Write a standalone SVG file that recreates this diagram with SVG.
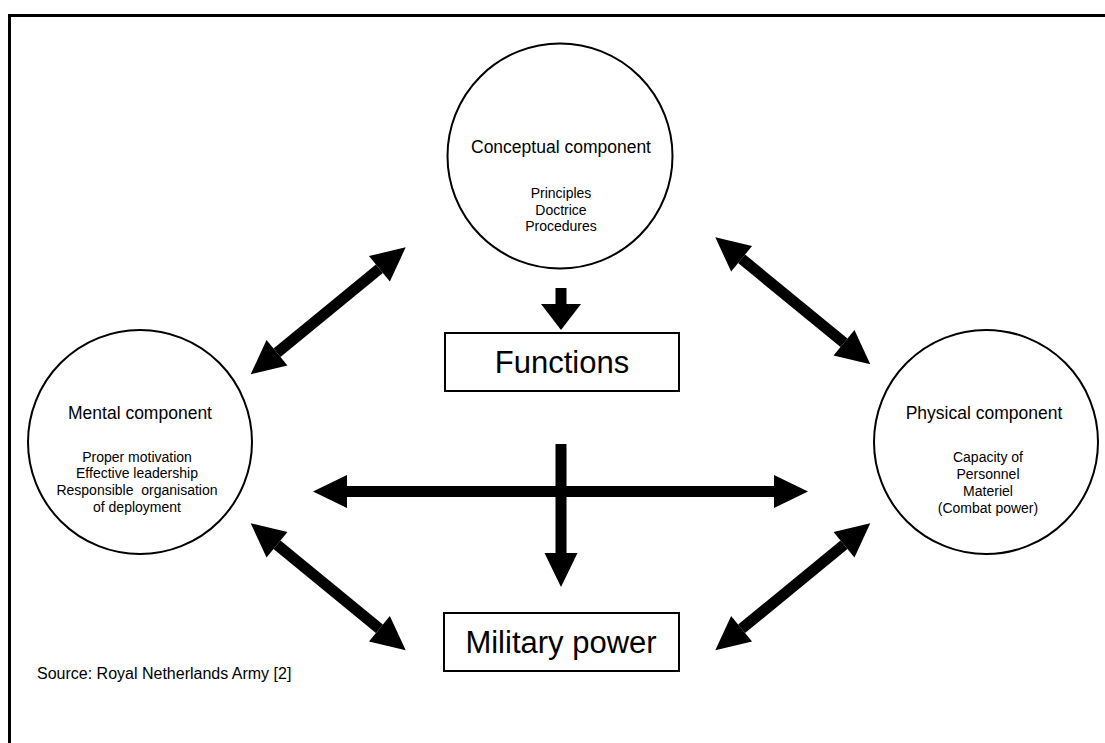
<svg xmlns="http://www.w3.org/2000/svg" width="1105" height="743" viewBox="0 0 1105 743">
<style>
.node{fill:#fff;stroke:#000;stroke-width:2}
.t{font-family:"Liberation Sans",Arial,sans-serif;fill:#000;text-anchor:middle}
.title{font-size:17.5px}
.sub{font-size:14px;white-space:pre}
.big{font-size:31px}
.conn{stroke:#000;stroke-width:11;fill:none}
.dbl{marker-start:url(#ah);marker-end:url(#ah)}
.one{marker-end:url(#ah)}
</style>
<defs>
<marker id="ah" markerUnits="userSpaceOnUse" markerWidth="34" markerHeight="34" refX="0" refY="16.5" orient="auto-start-reverse" overflow="visible">
<path d="M0,0 L34,16.5 L0,33 Z" fill="#000"/>
</marker>
<marker id="ahs" markerUnits="userSpaceOnUse" markerWidth="26" markerHeight="40" refX="0" refY="20" orient="auto" overflow="visible">
<path d="M0,0 L26,20 L0,40 Z" fill="#000"/>
</marker>
</defs>
<rect x="0" y="0" width="1105" height="743" fill="#fff"/>
<path d="M9.5,743 V15.5 H1105" fill="none" stroke="#000" stroke-width="3"/>
<g id="connectors">
<line class="conn" x1="561" y1="288" x2="561" y2="304" marker-end="url(#ahs)"/>
<line class="conn one" x1="561" y1="444" x2="561" y2="553"/>
<line class="conn dbl" x1="347" y1="491.5" x2="774" y2="491.5"/>
<line class="conn dbl" x1="277" y1="352.75" x2="379.4" y2="268.85"/>
<line class="conn dbl" x1="741.6" y1="258.85" x2="844" y2="342.75"/>
<line class="conn dbl" x1="277" y1="544.85" x2="379.4" y2="628.75"/>
<line class="conn dbl" x1="844" y1="544.85" x2="741.6" y2="628.75"/>
</g>
<g id="conceptual">
<circle class="node" cx="560" cy="156" r="112.5"/>
<text class="t title" x="561" y="153">Conceptual component</text>
<text class="t sub" x="561" y="198">Principles</text>
<text class="t sub" x="561" y="215">Doctrice</text>
<text class="t sub" x="561" y="231">Procedures</text>
</g>
<g id="mental">
<circle class="node" cx="140" cy="442" r="112"/>
<text class="t title" x="140" y="419">Mental component</text>
<text class="t sub" x="137" y="462">Proper motivation</text>
<text class="t sub" x="137" y="478">Effective leadership</text>
<text class="t sub" x="137" y="495">Responsible  organisation</text>
<text class="t sub" x="137" y="512">of deployment</text>
</g>
<g id="physical">
<circle class="node" cx="986" cy="442" r="112"/>
<text class="t title" x="984" y="419">Physical component</text>
<text class="t sub" x="988" y="462">Capacity of</text>
<text class="t sub" x="988" y="479">Personnel</text>
<text class="t sub" x="988" y="496">Materiel</text>
<text class="t sub" x="988" y="513">(Combat power)</text>
</g>
<g id="functions">
<rect class="node" x="445" y="333" width="234" height="58"/>
<text class="t big" x="562" y="373">Functions</text>
</g>
<g id="military-power">
<rect class="node" x="444" y="613" width="235" height="58"/>
<text class="t big" x="561" y="653">Military power</text>
</g>
<g id="source">
<text class="t" style="font-size:16px;text-anchor:start" x="37" y="679">Source: Royal Netherlands Army [2]</text>
</g>
</svg>
